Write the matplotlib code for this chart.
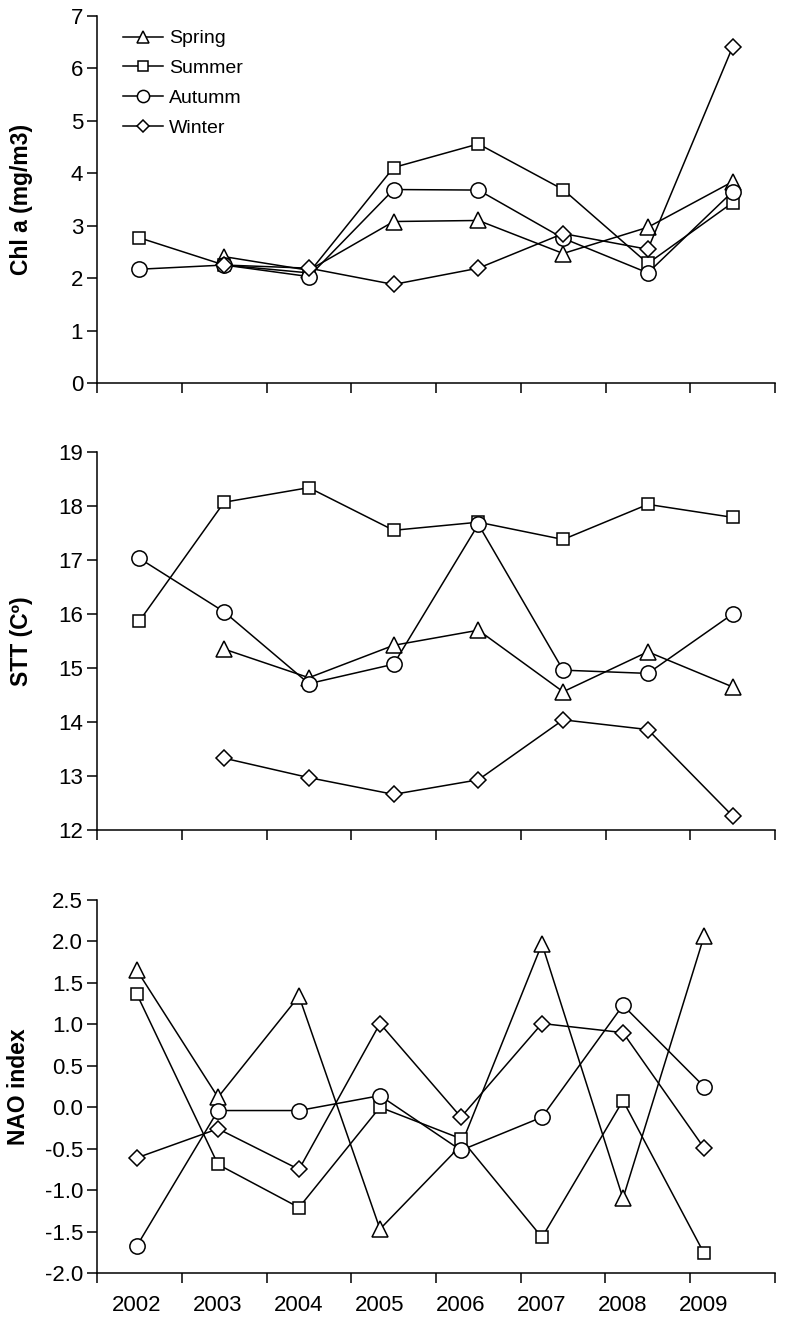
import numpy as np
import matplotlib
matplotlib.use("Agg")
import matplotlib.pyplot as plt

plt.rcParams['font.family'] = ['Liberation Sans', 'DejaVu Sans']
plt.rcParams['axes.unicode_minus'] = False

nan = np.nan
years = [2002, 2003, 2004, 2005, 2006, 2007, 2008, 2009]
seasons = ['Spring', 'Summer', 'Autumm', 'Winter']

# Chl a (mg/m3)
chl_spring = [nan, 2.41, 2.15, 3.08, 3.10, 2.47, 2.97, 3.84]
chl_summer = [2.77, 2.25, 2.10, 4.11, 4.56, 3.69, 2.28, 3.44]
chl_autumn = [2.17, 2.25, 2.03, 3.69, 3.68, 2.76, 2.10, 3.65]
chl_winter = [nan, 2.25, 2.19, 1.88, 2.19, 2.85, 2.55, 6.41]

# STT (C)
stt_spring = [nan, 15.35, 14.82, 15.42, 15.70, 14.56, 15.30, 14.65]
stt_summer = [15.87, 18.07, 18.34, 17.55, 17.70, 17.38, 18.03, 17.79]
stt_autumn = [17.03, 16.04, 14.71, 15.07, 17.66, 14.96, 14.90, 16.00]
stt_winter = [nan, 13.33, 12.97, 12.66, 12.93, 14.04, 13.86, 12.26]

# NAO index
nao_spring = [1.65, 0.12, 1.34, -1.47, -0.46, 1.97, -1.10, 2.06]
nao_summer = [1.36, -0.69, -1.21, 0.00, -0.38, -1.57, 0.08, -1.76]
nao_autumn = [-1.67, -0.04, -0.04, 0.14, -0.52, -0.12, 1.23, 0.25]
nao_winter = [-0.61, -0.26, -0.75, 1.01, -0.12, 1.01, 0.90, -0.49]

markers = {'Spring': ('^', 11), 'Summer': ('s', 8.8), 'Autumm': ('o', 11), 'Winter': ('D', 8)}

fig = plt.figure(figsize=(7.85, 13.21), dpi=100)
W, H = 785, 1321


def make_ax(top, bottom, left=97, right=775):
    return fig.add_axes([left / W, 1 - bottom / H, (right - left) / W, (bottom - top) / H])


panels = [
    (make_ax(16, 383), [chl_spring, chl_summer, chl_autumn, chl_winter], 'Chl a (mg/m3)',
     (0, 7), np.arange(0, 8, 1), '%d', (2001.5, 2009.5)),
    (make_ax(452, 830), [stt_spring, stt_summer, stt_autumn, stt_winter], 'STT (C\u00ba)',
     (12, 19), np.arange(12, 20, 1), '%d', (2001.5, 2009.5)),
    (make_ax(900, 1273), [nao_spring, nao_summer, nao_autumn, nao_winter], 'NAO index',
     (-2.0, 2.5), np.arange(-2.0, 2.51, 0.5), '%.1f', (2001.506, 2009.877)),
]

for i, (ax, series, ylabel, ylim, yticks, fmt, xlim) in enumerate(panels):
    for name, vals in zip(seasons, series):
        m, ms = markers[name]
        ax.plot(years, vals, color='black', lw=1.1, marker=m, ms=ms,
                mfc='white', mec='black', mew=1.1, label=name)
    ax.set_xlim(*xlim)
    ax.set_ylim(*ylim)
    ax.set_yticks(yticks)
    ax.set_yticklabels([fmt % v for v in yticks])
    ax.set_xticks(np.linspace(xlim[0], xlim[1], 9))
    ax.set_xticklabels([])
    ax.spines['top'].set_visible(False)
    ax.spines['right'].set_visible(False)
    for s in ('left', 'bottom'):
        ax.spines[s].set_linewidth(1.1)
    ax.tick_params(axis='both', direction='out', length=7, width=1.1, labelsize=16, pad=3)
    ax.set_ylabel(ylabel, fontsize=16.5, fontweight='bold', va='center')
    ax.yaxis.set_label_coords(-0.111 if i < 2 else -0.116, 0.5)
    ax.patch.set_alpha(0)
    for ln in ax.lines:
        ln.set_clip_on(False)

# bottom panel: year labels sit under the data, not under the ticks
ax3 = panels[2][0]
ax3.set_xticks(years, minor=True)
ax3.set_xticklabels([str(y) for y in years], minor=True)
ax3.tick_params(axis='x', which='minor', length=0, labelsize=16, pad=16)

ax1 = panels[0][0]
ax1.legend(loc='upper left', bbox_to_anchor=(0.032, 0.973), frameon=False, fontsize=14,
           handlelength=2.1, handletextpad=0.3, labelspacing=0.63, borderaxespad=0.2,
           borderpad=0, markerscale=0.8)

fig.savefig('out.png', dpi=100)
